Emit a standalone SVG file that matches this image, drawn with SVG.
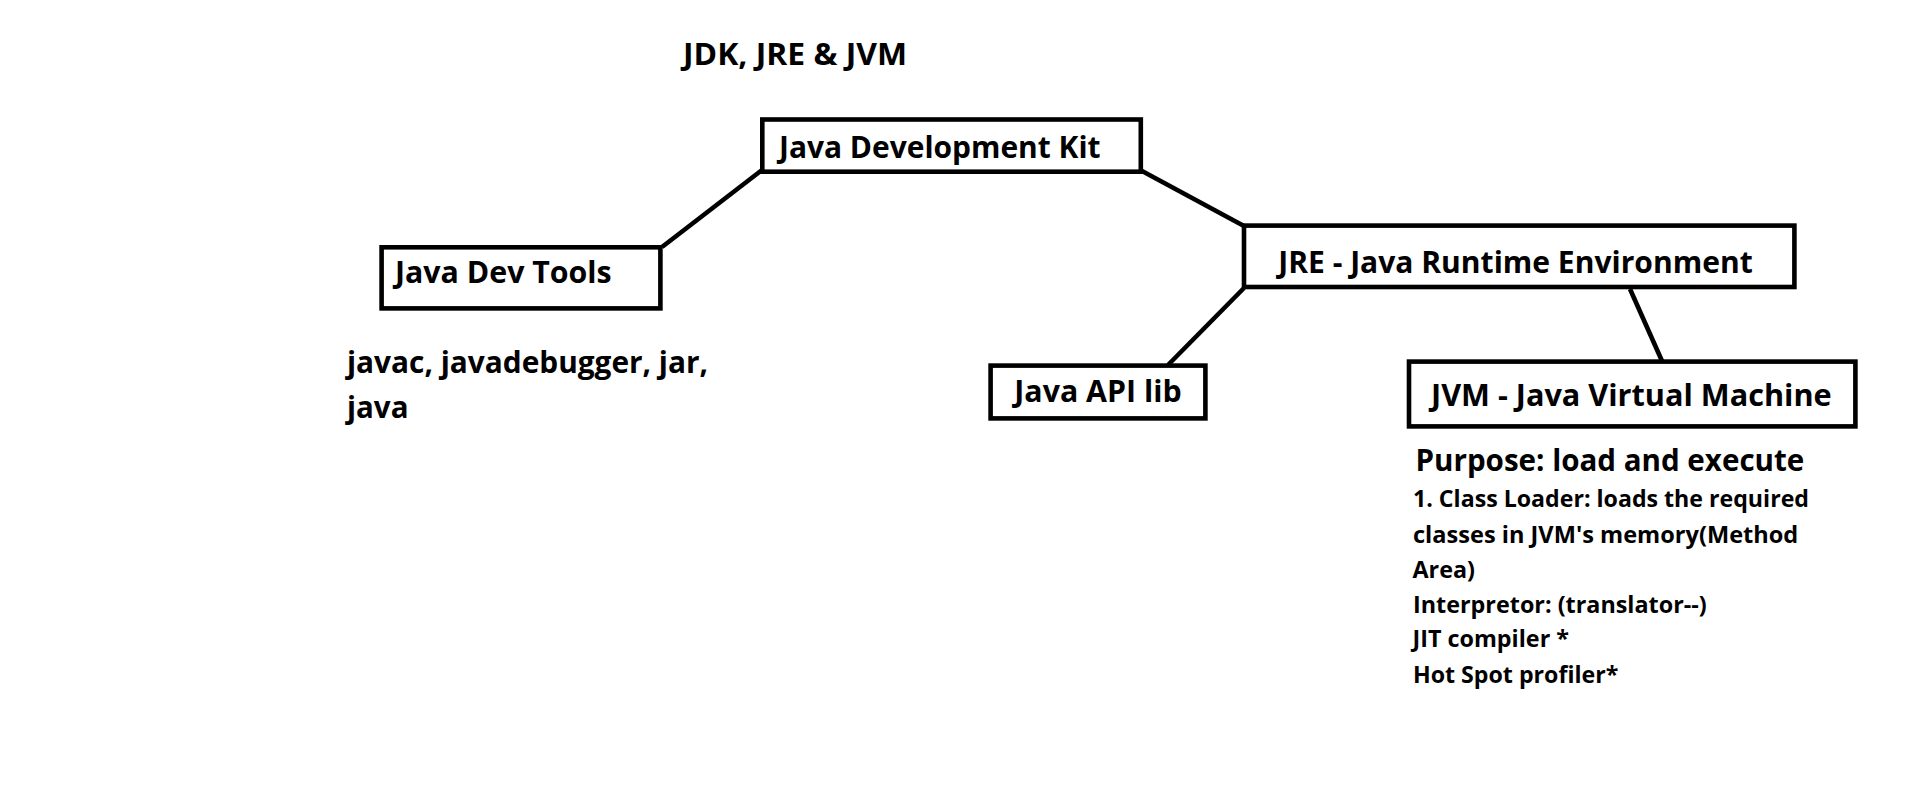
<svg xmlns="http://www.w3.org/2000/svg" width="1914" height="802" viewBox="0 0 1914 802">
<style>
.box{fill:#fff;stroke:#000;stroke-width:4.6}
.conn line{stroke:#000;stroke-width:4.6;stroke-linecap:butt}
text{font-family:"Open Sans","Noto Sans","Liberation Sans",sans-serif;font-weight:bold;fill:#000}
.t{font-size:30px}
.s{font-size:23px}
</style>
<rect width="1914" height="802" fill="#fff"/>
<g id="connectors" class="conn">
<line x1="662" y1="247" x2="762" y2="170"/>
<line x1="1142" y1="171" x2="1244" y2="226"/>
<line x1="1244" y1="288" x2="1168" y2="365"/>
<line x1="1630" y1="289" x2="1662" y2="361"/>
</g>
<g id="title">
<text class="t" x="683" y="65" font-size="29" textLength="224" lengthAdjust="spacingAndGlyphs">JDK, JRE &amp; JVM</text>
</g>
<g id="jdk">
<rect class="box" x="762.3" y="119.5" width="378.5" height="52.2"/>
<text class="t" x="779" y="158.3" textLength="321.5" lengthAdjust="spacingAndGlyphs">Java Development Kit</text>
</g>
<g id="devtools">
<rect class="box" x="381.6" y="247.3" width="278.8" height="61.1"/>
<text class="t" x="395" y="282.7" textLength="216.7" lengthAdjust="spacingAndGlyphs">Java Dev Tools</text>
</g>
<g id="devtools-list">
<text class="t" x="347" y="373.3" textLength="361" lengthAdjust="spacingAndGlyphs">javac, javadebugger, jar,</text>
<text class="t" x="347" y="418.3" textLength="61.5" lengthAdjust="spacingAndGlyphs">java</text>
</g>
<g id="jre">
<rect class="box" x="1244" y="225.6" width="550.4" height="61.4"/>
<text class="t" x="1278.3" y="273.3" textLength="474.4" lengthAdjust="spacingAndGlyphs">JRE - Java Runtime Environment</text>
</g>
<g id="apilib">
<rect class="box" x="990.6" y="365.6" width="214.8" height="52.8"/>
<text class="t" x="1014.3" y="402.3" textLength="167.4" lengthAdjust="spacingAndGlyphs">Java API lib</text>
</g>
<g id="jvm">
<rect class="box" x="1409" y="361.6" width="446.4" height="64.8"/>
<text class="t" x="1431" y="405.7" textLength="400.7" lengthAdjust="spacingAndGlyphs">JVM - Java Virtual Machine</text>
</g>
<g id="jvm-notes">
<text class="t" x="1415.5" y="470.7" textLength="388.8" lengthAdjust="spacingAndGlyphs">Purpose: load and execute</text>
<text class="s" x="1413" y="507.3" textLength="396" lengthAdjust="spacingAndGlyphs">1. Class Loader: loads the required</text>
<text class="s" x="1413" y="543.3" textLength="385.3" lengthAdjust="spacingAndGlyphs">classes in JVM's memory(Method</text>
<text class="s" x="1412.5" y="577.7" textLength="62.5" lengthAdjust="spacingAndGlyphs">Area)</text>
<text class="s" x="1413" y="612.7" textLength="293.7" lengthAdjust="spacingAndGlyphs">Interpretor: (translator--)</text>
<text class="s" x="1412.5" y="646.7" textLength="156.5" lengthAdjust="spacingAndGlyphs">JIT compiler *</text>
<text class="s" x="1413" y="683.3" textLength="205.3" lengthAdjust="spacingAndGlyphs">Hot Spot profiler*</text>
</g>
</svg>
